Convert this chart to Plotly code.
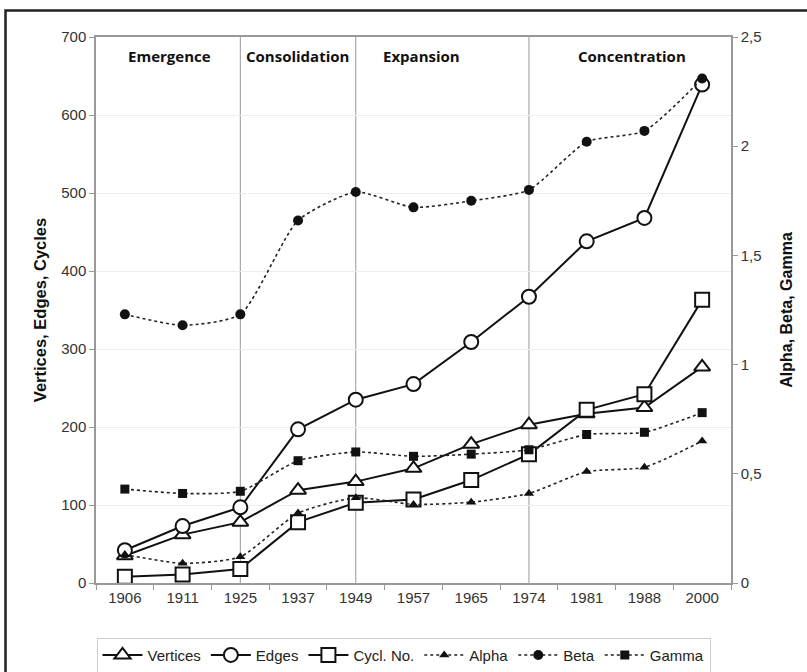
import plotly.graph_objects as go

years = ["1906", "1911", "1925", "1937", "1949", "1957", "1965", "1974", "1981", "1988", "2000"]
vertices = [35, 62, 78, 119, 130, 147, 178, 203, 217, 225, 277]
edges = [42, 73, 97, 197, 235, 255, 309, 367, 438, 468, 639]
cycles = [8, 11, 18, 78, 103, 107, 132, 165, 222, 242, 363]
alpha = [0.13, 0.09, 0.12, 0.32, 0.39, 0.36, 0.37, 0.41, 0.51, 0.53, 0.65]
beta = [1.23, 1.18, 1.23, 1.66, 1.79, 1.72, 1.75, 1.80, 2.02, 2.07, 2.31]
gamma = [0.43, 0.41, 0.42, 0.56, 0.60, 0.58, 0.59, 0.61, 0.68, 0.69, 0.78]

phase_years = ["1925", "1949", "1974"]
phase_labels = ["Emergence", "Consolidation", "Expansion", "Concentration"]
phase_label_pos = [0.1165, 0.318, 0.512, 0.844]

left_ticks = [0, 100, 200, 300, 400, 500, 600, 700]
right_tickvals = [0, 0.5, 1, 1.5, 2, 2.5]
right_ticktext = ["0", "0,5", "1", "1,5", "2", "2,5"]

FONT = "Liberation Sans, Arial, sans-serif"

fig = go.Figure()

solid = dict(color="#111111", width=2)
open_marker = dict(size=14, color="white", line=dict(color="#111111", width=2))

fig.add_trace(go.Scatter(x=years, y=vertices, name="Vertices", mode="lines+markers",
                         line=solid, marker=dict(symbol="triangle-up", **open_marker)))
fig.add_trace(go.Scatter(x=years, y=edges, name="Edges", mode="lines+markers",
                         line=solid, marker=dict(symbol="circle", **open_marker)))
fig.add_trace(go.Scatter(x=years, y=cycles, name="Cycl. No.", mode="lines+markers",
                         line=solid, marker=dict(symbol="square", **open_marker)))

dotted = dict(color="#222222", width=1.6, dash="dot", shape="spline", smoothing=0.6)
fig.add_trace(go.Scatter(x=years, y=alpha, name="Alpha", mode="lines+markers", yaxis="y2",
                         line=dotted, marker=dict(symbol="triangle-up", size=9, color="#111111")))
fig.add_trace(go.Scatter(x=years, y=beta, name="Beta", mode="lines+markers", yaxis="y2",
                         line=dotted, marker=dict(symbol="circle", size=10, color="#111111")))
fig.add_trace(go.Scatter(x=years, y=gamma, name="Gamma", mode="lines+markers", yaxis="y2",
                         line=dotted, marker=dict(symbol="square", size=9, color="#111111")))

shapes = []
for py in phase_years:
    idx = years.index(py)
    shapes.append(dict(type="line", xref="x", yref="paper", x0=idx, x1=idx, y0=0, y1=1,
                       line=dict(color="#999999", width=1), layer="below"))
# outer frame (partially visible)
shapes.append(dict(type="rect", xref="paper", yref="paper", x0=-0.1425, x1=1.6,
                   y0=-0.6, y1=1.0485, line=dict(color="#222222", width=2.5)))

annotations = []
for lab, px in zip(phase_labels, phase_label_pos):
    annotations.append(dict(text="<b>" + lab + "</b>", xref="paper", yref="paper",
                            x=px, y=0.966, showarrow=False, xanchor="center", yanchor="middle",
                            font=dict(family="Open Sans, sans-serif", size=15, color="#111111")))

fig.update_layout(
    width=807, height=672,
    margin=dict(l=96, r=76, t=37, b=89, autoexpand=False),
    plot_bgcolor="white", paper_bgcolor="white",
    font=dict(family=FONT, size=15, color="#333333"),
    showlegend=True,
    legend=dict(orientation="h", xref="container", yref="container",
                x=0.5, xanchor="center", y=0.025, yanchor="middle",
                bordercolor="#cccccc", borderwidth=1, bgcolor="white",
                font=dict(family=FONT, size=15, color="#222222"), itemwidth=40,
                tracegroupgap=0),
    xaxis=dict(type="category", categoryorder="array", categoryarray=years,
               range=[-0.5, len(years) - 0.5], autorange=False, automargin=False,
               showgrid=False, showline=True, linecolor="#999999", linewidth=1.5,
               mirror=True, ticks="outside", tickson="boundaries", ticklen=5,
               tickcolor="#999999", tickfont=dict(size=15, color="#333333"),
               tickangle=0, zeroline=False),
    yaxis=dict(range=[0, 700], tickvals=left_ticks, showgrid=True, gridcolor="#eeeeee",
               automargin=False,
               showline=True, linecolor="#999999", linewidth=1.5, ticks="outside",
               ticklen=5, tickcolor="#999999", zeroline=False,
               title=dict(text="<b>Vertices, Edges, Cycles</b>", standoff=10,
                          font=dict(size=16.5, color="#111111"))),
    yaxis2=dict(range=[0, 2.5], tickvals=right_tickvals, ticktext=right_ticktext,
                automargin=False,
                overlaying="y", side="right", showgrid=False, showline=True,
                linecolor="#999999", linewidth=1.5, ticks="outside", ticklen=5,
                tickcolor="#999999", zeroline=False,
                title=dict(text="<b>Alpha, Beta, Gamma</b>", standoff=20,
                           font=dict(size=16, color="#111111"))),
    shapes=shapes,
    annotations=annotations,
)

fig.write_html("out.html", config={"displayModeBar": False},
               post_script="document.body.style.margin='0';")
